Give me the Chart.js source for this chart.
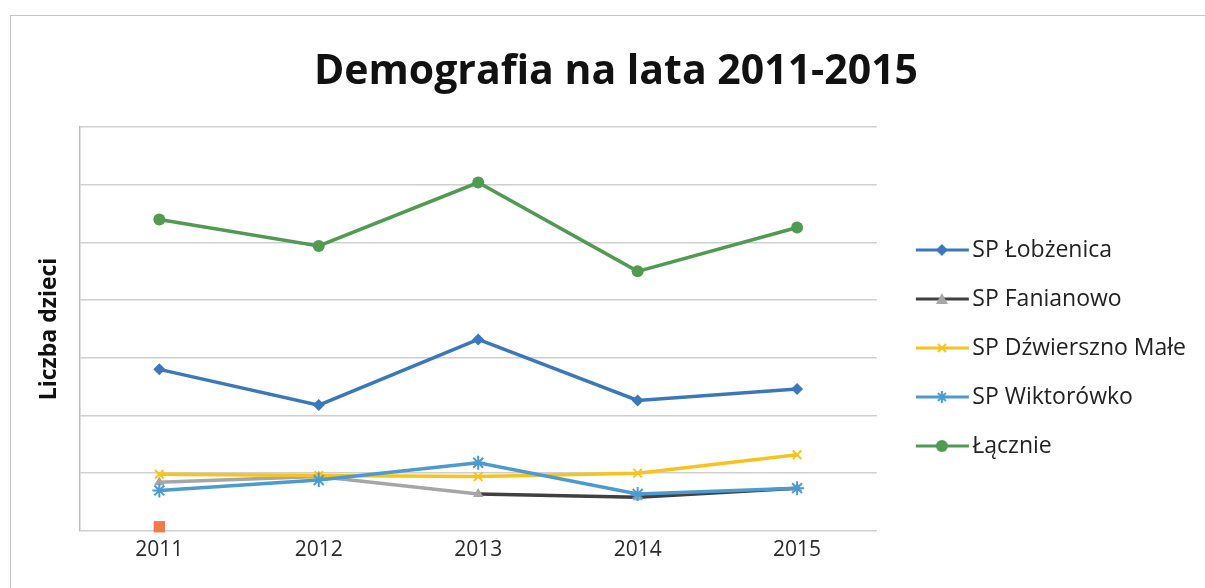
<!DOCTYPE html>
<html lang="pl">
<head>
  <meta charset="UTF-8" />
  <title>Demografia na lata 2011-2015</title>
  <style>
    body { margin: 0; padding: 0; background: #fff; }
    .frame {
      position: absolute; left: 10px; top: 15px; width: 1195px; height: 573px;
      border-left: 1px solid #c4c4c4; border-top: 1px solid #c4c4c4;
    }
    .wrap { position: absolute; left: 0; top: 0; width: 1205px; height: 588px; }
  </style>
</head>
<body>
  <div class="frame"></div>
  <div class="wrap"><canvas id="chart" width="1205" height="588"></canvas></div>

  <script src="https://cdn.jsdelivr.net/npm/chart.js"></script>
  <script>
    // --- data (one grid step = 50) ---
    const years = ['2011', '2012', '2013', '2014', '2015'];
    const lobzenica = [140, 109, 166, 113, 123];
    const fanianowo = [42, 47, 32, 29, 37];
    const dzwierszno = [49, 48, 47, 50, 66];
    const wiktorowko = [35, 44, 59, 32, 37];
    const lacznie = [270, 247, 302, 225, 263];
    const stray = [3.5, null, null, null, null];

    const FONT = "'Open Sans', sans-serif";

    // legend sample: short line with the marker in the middle
    // (canvas is wider than the legend box, left part left empty)
    function legendIcon(color, marker, markerColor) {
      const c = document.createElement('canvas');
      c.width = 78; c.height = 16;
      const g = c.getContext('2d');
      const x0 = 23, x1 = 76, mid = 49;
      g.strokeStyle = color; g.lineWidth = 3;
      g.beginPath(); g.moveTo(x0, 8); g.lineTo(x1, 8); g.stroke();
      g.fillStyle = markerColor || color;
      g.strokeStyle = markerColor || color;
      g.lineWidth = 2;
      g.beginPath();
      if (marker === 'diamond') {
        g.moveTo(mid, 2); g.lineTo(mid + 6, 8); g.lineTo(mid, 14); g.lineTo(mid - 6, 8); g.closePath(); g.fill();
      } else if (marker === 'triangle') {
        g.moveTo(mid, 2); g.lineTo(mid + 6, 13); g.lineTo(mid - 6, 13); g.closePath(); g.fill();
      } else if (marker === 'x') {
        g.moveTo(mid - 4, 4); g.lineTo(mid + 4, 12); g.moveTo(mid + 4, 4); g.lineTo(mid - 4, 12); g.stroke();
      } else if (marker === 'star') {
        g.moveTo(mid - 4, 4); g.lineTo(mid + 4, 12); g.moveTo(mid + 4, 4); g.lineTo(mid - 4, 12);
        g.moveTo(mid, 2); g.lineTo(mid, 14); g.stroke();
      } else {
        g.arc(mid, 8, 6, 0, Math.PI * 2); g.fill();
      }
      return c;
    }

    const cBlue = '#3b78b9';
    const cDark = '#404040';
    const cGray = '#a6a6a6';
    const cYellow = '#f7c31c';
    const cLight = '#4b9bd0';
    const cGreen = '#519a52';

    const ctx = document.getElementById('chart').getContext('2d');
    const chart = new Chart(ctx, {
      type: 'line',
      data: {
        labels: years,
        datasets: [
          {
            label: 'SP Łobżenica', data: lobzenica, order: 4,
            borderColor: cBlue, backgroundColor: cBlue, borderWidth: 3.5,
            pointStyle: 'rectRot', pointRadius: 6, pointBorderWidth: 0,
            legendIcon: legendIcon(cBlue, 'diamond')
          },
          {
            label: 'SP Fanianowo', data: fanianowo, order: 5,
            borderColor: cDark, backgroundColor: cGray, borderWidth: 3.5,
            segment: { borderColor: s => s.p0DataIndex < 2 ? cGray : cDark },
            pointStyle: 'triangle', pointRadius: 6, pointBorderWidth: 0,
            legendIcon: legendIcon(cDark, 'triangle', cGray)
          },
          {
            label: 'SP Dźwierszno Małe', data: dzwierszno, order: 3,
            borderColor: cYellow, backgroundColor: cYellow, borderWidth: 3.5,
            pointStyle: 'crossRot', pointRadius: 6, pointBorderWidth: 2,
            legendIcon: legendIcon(cYellow, 'x')
          },
          {
            label: 'SP Wiktorówko', data: wiktorowko, order: 2,
            borderColor: cLight, backgroundColor: cLight, borderWidth: 3.5,
            pointStyle: 'star', pointRadius: 7, pointBorderWidth: 2,
            legendIcon: legendIcon(cLight, 'star')
          },
          {
            label: 'Łącznie', data: lacznie, order: 1,
            borderColor: cGreen, backgroundColor: cGreen, borderWidth: 3.5,
            pointStyle: 'circle', pointRadius: 6, pointBorderWidth: 0,
            legendIcon: legendIcon(cGreen, 'circle')
          },
          {
            label: '', data: stray, order: 6, showLine: false, clip: false,
            borderColor: '#f07a4a', backgroundColor: '#f07a4a',
            pointStyle: 'rect', pointRadius: 8, pointBorderWidth: 0
          }
        ]
      },
      options: {
        responsive: false,
        animation: false,
        layout: { padding: { left: 36, right: 9, top: 40, bottom: 18 } },
        scales: {
          x: {
            offset: true,
            grid: { display: false, drawTicks: false },
            border: { display: false },
            ticks: { padding: 7, color: '#2a2a2a', font: { family: FONT, size: 21 } }
          },
          y: {
            min: 0, max: 350,
            ticks: { display: false, stepSize: 50 },
            grid: { color: '#cfcfcf', lineWidth: 1.5, drawTicks: false },
            border: { display: true, color: '#bdbdbd', width: 1.5 },
            title: {
              display: true, text: 'Liczba dzieci', color: '#111',
              padding: { top: 0, bottom: 16 },
              font: { family: FONT, size: 23, weight: 'bold' }
            }
          }
        },
        plugins: {
          title: {
            display: true, text: 'Demografia na lata 2011-2015', color: '#111',
            padding: { top: 8, bottom: 30 },
            font: { family: FONT, size: 41, weight: 'bold' }
          },
          legend: {
            position: 'right',
            maxWidth: 400,
            title: { display: true, text: '', padding: 31, font: { size: 20 } },
            labels: {
              usePointStyle: true, pointStyleWidth: 58, padding: 26,
              color: '#222', font: { family: FONT, size: 23 },
              sort: (a, b) => a.datasetIndex - b.datasetIndex,
              filter: item => item.text !== '',
              generateLabels: c => Chart.defaults.plugins.legend.labels.generateLabels(c).map(l => {
                l.pointStyle = c.data.datasets[l.datasetIndex].legendIcon;
                return l;
              })
            }
          },
          tooltip: { enabled: false }
        }
      }
    });
  </script>
</body>
</html>
